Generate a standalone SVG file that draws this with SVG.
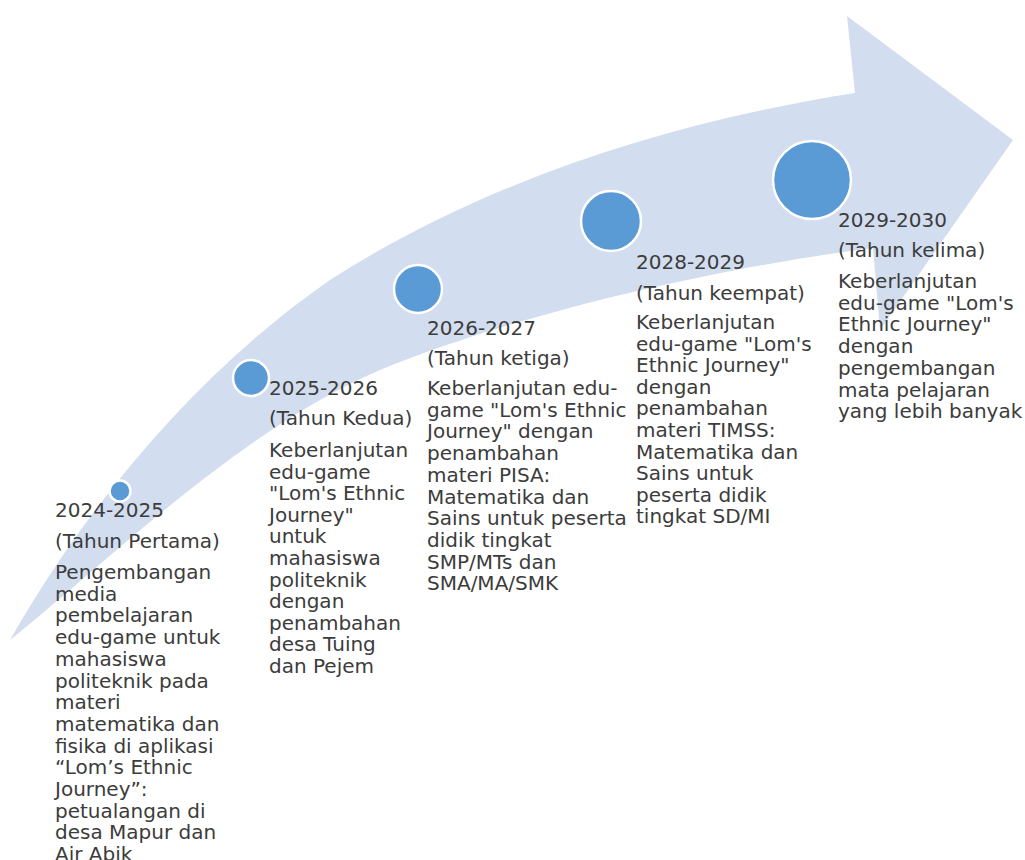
<svg xmlns="http://www.w3.org/2000/svg" width="1025" height="860" viewBox="0 0 1025 860">
<style>
.t{font-family:"DejaVu Sans","Liberation Sans",sans-serif;font-size:20px;fill:#3c3c3c}
.dot{fill:#5B9BD5;stroke:#ffffff;stroke-width:2.5}
.arrow{fill:#D2DDEF}
</style>
<rect width="1025" height="860" fill="#ffffff"/>
<g id="arrow">
<path class="arrow" d="M10,640 C90,500 200,370 330,280 C470,190 650,125 855,93 L847,16 L1013,140 L880,330 L873,248 C700,270 500,320 380,370 C240,430 110,560 10,640 Z"/>
</g>
<g id="connectors"></g>
<g id="node1">
<circle class="dot" cx="120" cy="491" r="10.5"/>
<text class="t" x="55" y="517">2024-2025</text>
<text class="t" x="55" y="548">(Tahun Pertama)</text>
<text class="t" x="55" y="579"><tspan x="55">Pengembangan</tspan><tspan x="55" dy="21.7">media</tspan><tspan x="55" dy="21.7">pembelajaran</tspan><tspan x="55" dy="21.7">edu-game untuk</tspan><tspan x="55" dy="21.7">mahasiswa</tspan><tspan x="55" dy="21.7">politeknik pada</tspan><tspan x="55" dy="21.7">materi</tspan><tspan x="55" dy="21.7">matematika dan</tspan><tspan x="55" dy="21.7">fisika di aplikasi</tspan><tspan x="55" dy="21.7">“Lom’s Ethnic</tspan><tspan x="55" dy="21.7">Journey”:</tspan><tspan x="55" dy="21.7">petualangan di</tspan><tspan x="55" dy="21.7">desa Mapur dan</tspan><tspan x="55" dy="21.7">Air Abik</tspan></text>
</g>
<g id="node2">
<circle class="dot" cx="251" cy="378" r="18"/>
<text class="t" x="269" y="395">2025-2026</text>
<text class="t" x="269" y="425">(Tahun Kedua)</text>
<text class="t" x="269" y="457"><tspan x="269">Keberlanjutan</tspan><tspan x="269" dy="21.6">edu-game</tspan><tspan x="269" dy="21.6">"Lom's Ethnic</tspan><tspan x="269" dy="21.6">Journey"</tspan><tspan x="269" dy="21.6">untuk</tspan><tspan x="269" dy="21.6">mahasiswa</tspan><tspan x="269" dy="21.6">politeknik</tspan><tspan x="269" dy="21.6">dengan</tspan><tspan x="269" dy="21.6">penambahan</tspan><tspan x="269" dy="21.6">desa Tuing</tspan><tspan x="269" dy="21.6">dan Pejem</tspan></text>
</g>
<g id="node3">
<circle class="dot" cx="418" cy="289" r="24"/>
<text class="t" x="427" y="335">2026-2027</text>
<text class="t" x="427" y="365">(Tahun ketiga)</text>
<text class="t" x="427" y="395"><tspan x="427">Keberlanjutan edu-</tspan><tspan x="427" dy="21.7">game "Lom's Ethnic</tspan><tspan x="427" dy="21.7">Journey" dengan</tspan><tspan x="427" dy="21.7">penambahan</tspan><tspan x="427" dy="21.7">materi PISA:</tspan><tspan x="427" dy="21.7">Matematika dan</tspan><tspan x="427" dy="21.7">Sains untuk peserta</tspan><tspan x="427" dy="21.7">didik tingkat</tspan><tspan x="427" dy="21.7">SMP/MTs dan</tspan><tspan x="427" dy="21.7">SMA/MA/SMK</tspan></text>
</g>
<g id="node4">
<circle class="dot" cx="611" cy="221" r="30"/>
<text class="t" x="636" y="269">2028-2029</text>
<text class="t" x="636" y="300">(Tahun keempat)</text>
<text class="t" x="636" y="329"><tspan x="636">Keberlanjutan</tspan><tspan x="636" dy="21.6">edu-game "Lom's</tspan><tspan x="636" dy="21.6">Ethnic Journey"</tspan><tspan x="636" dy="21.6">dengan</tspan><tspan x="636" dy="21.6">penambahan</tspan><tspan x="636" dy="21.6">materi TIMSS:</tspan><tspan x="636" dy="21.6">Matematika dan</tspan><tspan x="636" dy="21.6">Sains untuk</tspan><tspan x="636" dy="21.6">peserta didik</tspan><tspan x="636" dy="21.6">tingkat SD/MI</tspan></text>
</g>
<g id="node5">
<circle class="dot" cx="812" cy="180" r="39"/>
<text class="t" x="838" y="227">2029-2030</text>
<text class="t" x="838" y="257">(Tahun kelima)</text>
<text class="t" x="838" y="288"><tspan x="838">Keberlanjutan</tspan><tspan x="838" dy="21.7">edu-game "Lom's</tspan><tspan x="838" dy="21.7">Ethnic Journey"</tspan><tspan x="838" dy="21.7">dengan</tspan><tspan x="838" dy="21.7">pengembangan</tspan><tspan x="838" dy="21.7">mata pelajaran</tspan><tspan x="838" dy="21.7">yang lebih banyak</tspan></text>
</g>
</svg>
